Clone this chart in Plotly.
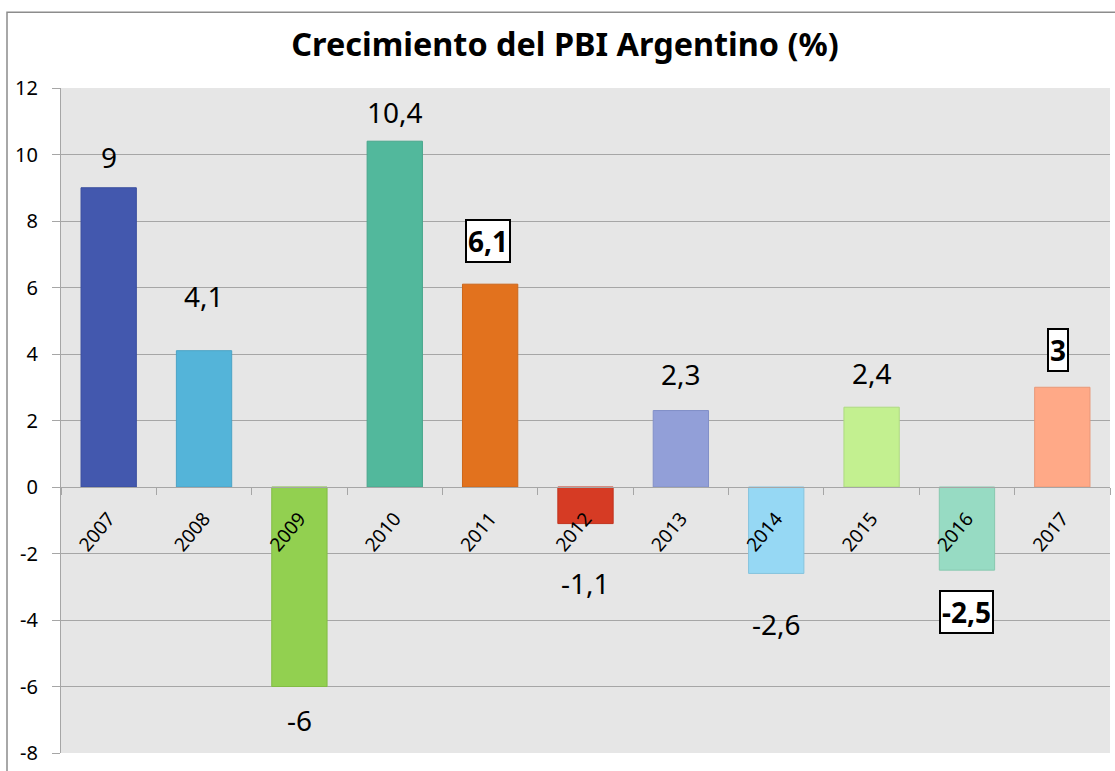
import plotly.graph_objects as go

# ---- data ----
years = ["2007", "2008", "2009", "2010", "2011", "2012", "2013", "2014", "2015", "2016", "2017"]
growth = [9, 4.1, -6, 10.4, 6.1, -1.1, 2.3, -2.6, 2.4, -2.5, 3]
y_ticks = [-8, -6, -4, -2, 0, 2, 4, 6, 8, 10, 12]
title_text = "Crecimiento del PBI Argentino (%)"
boxed_years = ["2011", "2016", "2017"]

# ---- styles ----
fill_colors = ["#4358AE", "#54B4D9", "#92D050", "#52B89C", "#E2721E", "#D63B24",
               "#929FD8", "#96D8F4", "#C3F090", "#97DBC3", "#FFA987"]
line_colors = ["#3A4E9E", "#4AA3C6", "#82BC44", "#48A68C", "#CC661A", "#C0341F",
               "#8290C8", "#86C4DE", "#AEDA80", "#88C8B0", "#E89878"]
label_yshift = [31, 55, -33, 29, 43, -59, 37, -51, 34, -42, 37]
label_xshift = [0, 0, 0, 0, -2, 0, 0, 0, 0, 0, -4]

FONT = "Noto Sans"
GRID = "#A6A6A6"

fig = go.Figure()
fig.add_trace(go.Bar(
    x=years, y=growth,
    marker=dict(color=fill_colors, line=dict(color=line_colors, width=1)),
    hoverinfo="x+y",
))

annotations = []
for i, (yr, v, dy, dx) in enumerate(zip(years, growth, label_yshift, label_xshift)):
    txt = f"{v:g}".replace(".", ",")
    boxed = yr in boxed_years
    a = dict(
        x=i, y=v, xref="x", yref="y", text=f"<b>{txt}</b>" if boxed else txt,
        showarrow=False, yanchor="middle", xanchor="center",
        yshift=dy, xshift=dx,
        font=dict(family=FONT, size=28, color="#000000"),
    )
    if boxed:
        a.update(bgcolor="#FFFFFF", bordercolor="#000000", borderwidth=2, borderpad=1)
    annotations.append(a)

fig.update_layout(
    width=1115, height=771,
    margin=dict(l=61, r=5, t=88, b=16, pad=0),
    paper_bgcolor="#FFFFFF",
    plot_bgcolor="#E6E6E6",
    bargap=0.42,
    showlegend=False,
    title=dict(text=f"<b>{title_text}</b>", x=565 / 1115, xref="container", xanchor="center",
               y=1 - 45 / 771, yref="container", yanchor="middle",
               font=dict(family=FONT, size=32.4, color="#000000")),
    font=dict(family=FONT, color="#000000"),
    annotations=annotations,
    xaxis=dict(
        type="category", categoryorder="array", categoryarray=years,
        range=[-0.5, len(years) - 0.5], autorange=False,
        anchor="free", position=0.4,
        showline=True, linecolor=GRID, linewidth=1,
        ticks="outside", tickson="boundaries", ticklen=7, tickcolor=GRID, tickwidth=1,
        tickangle=-50, ticklabelstandoff=12,
        tickfont=dict(family=FONT, size=19, color="#000000"),
        showgrid=False, zeroline=False,
    ),
    yaxis=dict(
        range=[-8, 12], autorange=False, tickvals=y_ticks, ticktext=[str(t) for t in y_ticks],
        showgrid=True, gridcolor=GRID, gridwidth=1, zeroline=False,
        showline=True, linecolor=GRID, linewidth=1,
        ticks="outside", ticklen=8, tickcolor=GRID,
        ticklabelstandoff=10,
        tickfont=dict(family=FONT, size=20, color="#000000"),
    ),
    shapes=[dict(type="rect", xref="paper", yref="paper",
                 x0=(7 - 61) / 1049, x1=1.2, y0=-0.3, y1=1 + (88 - 12) / 667,
                 line=dict(color="#8C8C8C", width=1.5), fillcolor="rgba(0,0,0,0)", layer="below")],
)

fig.write_html("out.html", config={"displayModeBar": False},
               post_script="document.body.style.margin='0';")
